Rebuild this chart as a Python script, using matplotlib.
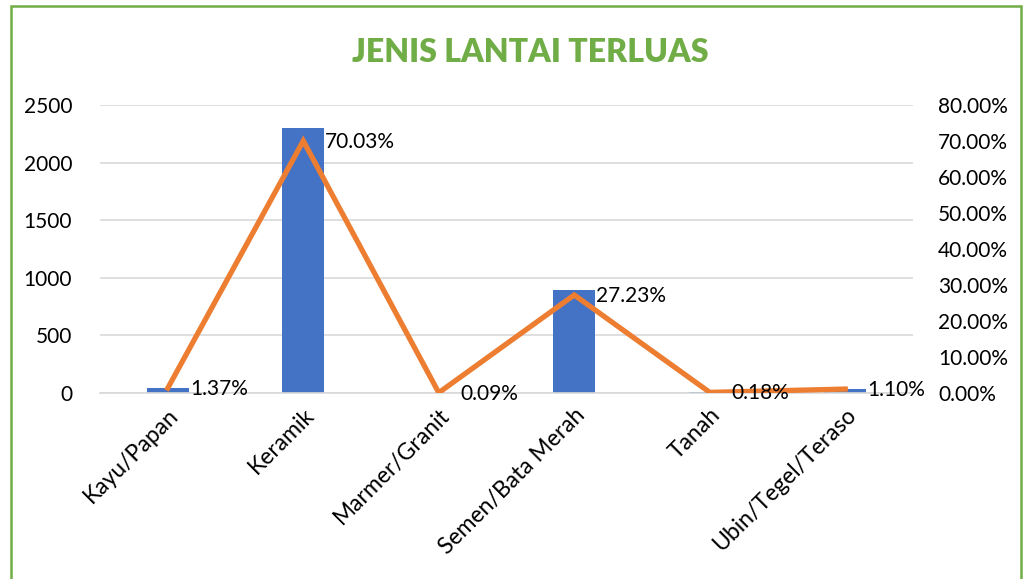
import numpy as np
import matplotlib.pyplot as plt
from matplotlib.patches import Rectangle

plt.rcParams['font.family'] = ['Lato', 'DejaVu Sans']

# data
kategori = ["Kayu/Papan", "Keramik", "Marmer/Granit", "Semen/Bata Merah", "Tanah", "Ubin/Tegel/Teraso"]
jumlah = [45, 2300, 3, 894, 6, 36]
persen = [1.37, 70.03, 0.09, 27.23, 0.18, 1.10]

blue = "#4472C4"
orange = "#ED7D31"
green = "#70AD47"

fig = plt.figure(figsize=(10.25, 5.79), dpi=100)
ax = fig.add_axes([0.0976, 0.3212, 0.7931, 0.4975])
ax2 = ax.twinx()

x = np.arange(len(kategori))
ax.bar(x, jumlah, width=0.31, color=blue, zorder=2)
ax.set_xlim(-0.5, len(kategori) - 0.5)
ax.set_ylim(0, 2500)
ax.set_yticks([0, 500, 1000, 1500, 2000, 2500])
ax.yaxis.grid(True, color="#D9D9D9", linewidth=1.2, zorder=0)
ax.set_axisbelow(True)

ax2.plot(x, np.array(persen) / 100, color=orange, linewidth=3.8, solid_joinstyle='miter', zorder=3)
ax2.set_ylim(0, 0.8)
ax2.set_yticks(np.arange(0, 0.81, 0.1))
ax2.set_yticklabels(["%.2f%%" % (v * 100) for v in np.arange(0, 0.81, 0.1)])

for i, p in enumerate(persen):
    ax2.annotate("%.2f%%" % p, (x[i], p / 100), xytext=(22, -1), textcoords='offset pixels',
                 ha='left', va='center', fontsize=15, color="#000000")

for a in (ax, ax2):
    for s in a.spines.values():
        s.set_visible(False)
    a.tick_params(length=0, labelsize=15, colors="#000000")
ax.spines['bottom'].set_visible(True)
ax.spines['bottom'].set_color("#D9D9D9")
ax.spines['bottom'].set_linewidth(1.2)

ax.set_xticks(x)
ax.set_xticklabels(kategori, rotation=45, ha='right', rotation_mode='anchor', fontsize=16.5)
ax.tick_params(axis='x', pad=8)
ax.tick_params(axis='y', pad=20)
ax2.tick_params(axis='y', pad=18)

fig.text(0.517, 0.91, "JENIS LANTAI TERLUAS", ha='center', va='center',
         fontsize=23, fontweight='heavy', color=green)

fig.patches.append(Rectangle((11 / 1025, -0.05), 1010 / 1025, 1.05 - 6 / 579,
                             transform=fig.transFigure, fill=False, edgecolor=green, linewidth=1.8))

fig.savefig("out.png", dpi=100)
